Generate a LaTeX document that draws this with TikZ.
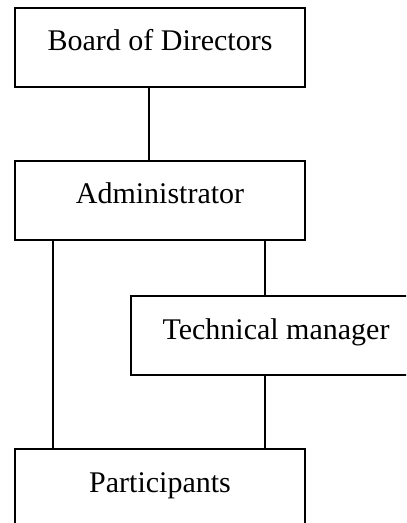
\documentclass[tikz,border=0pt]{standalone}
\usepackage{fontspec}
\setmainfont{Liberation Serif}
\usetikzlibrary{positioning}

\tikzset{
  orgbox/.style={draw, line width=1.5pt, inner sep=0pt, anchor=base,
    minimum width=217.5pt, text height=32pt, text depth=27pt,
    font=\fontsize{22.5}{27}\selectfont},
  orgline/.style={line width=1.5pt}
}

\begin{document}
\begin{tikzpicture}[x=0.75pt,y=-0.75pt]
        \useasboundingbox (0,0) rectangle (406,523);
        \clip (0,0) rectangle (406,523);
        %% Boxes of the chart.
        \node[orgbox] (board) at (160,51) {Board of Directors};
        \node[orgbox] (admin) at (160,204) {Administrator};
        \node[orgbox] (tech) at (276,339) {Technical manager};
        \node[orgbox] (part) at (160,492) {Participants};
        %% Connections.
        \draw[orgline] ([xshift=-8.25pt]board.south) -- ([xshift=-8.25pt]admin.north);
        \draw[orgline] ([xshift=-80.25pt]admin.south) -- ([xshift=-80.25pt]part.north);
        \draw[orgline] ([xshift=78.75pt]admin.south) -- ([xshift=-8.25pt]tech.north);
        \draw[orgline] ([xshift=-8.25pt]tech.south) -- ([xshift=78.75pt]part.north);
      \end{tikzpicture}
\end{document}
